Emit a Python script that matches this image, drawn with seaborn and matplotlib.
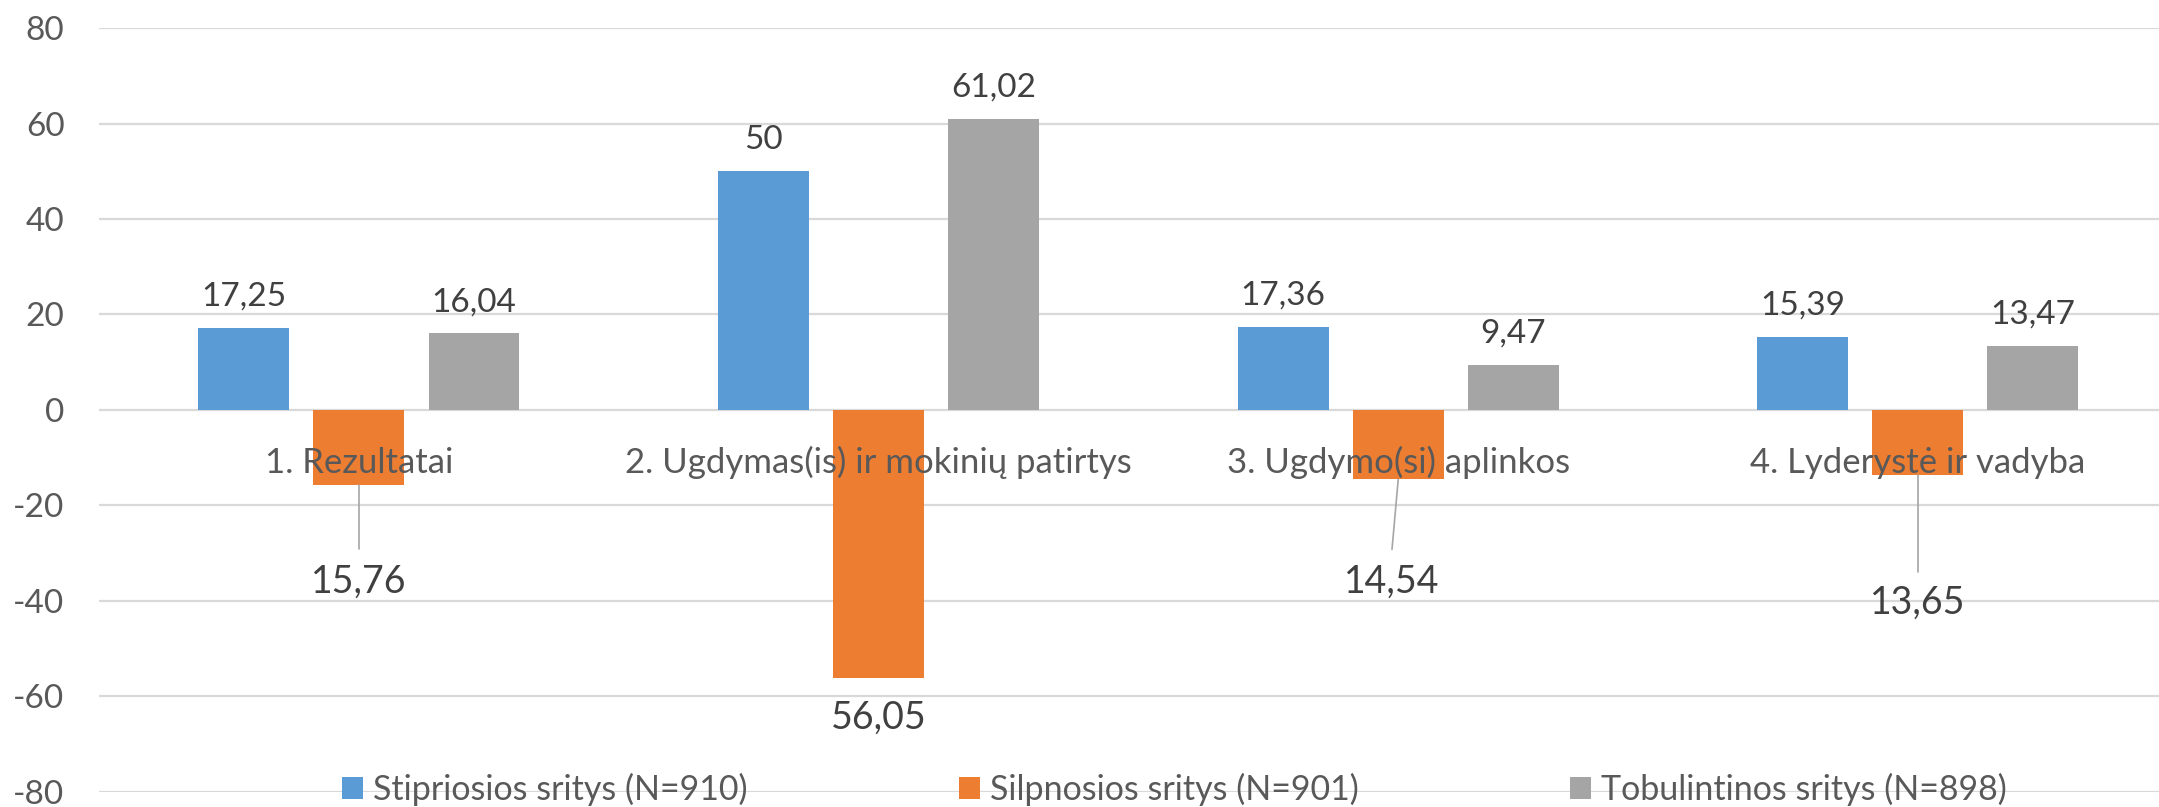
import numpy as np
import pandas as pd
import matplotlib
matplotlib.use('Agg')
import matplotlib.pyplot as plt
import seaborn as sns

# Data
categories = ['1. Rezultatai', '2. Ugdymas(is) ir mokinių patirtys',
              '3. Ugdymo(si) aplinkos', '4. Lyderystė ir vadyba']
series = ['Stipriosios sritys (N=910)', 'Silpnosios sritys (N=901)',
          'Tobulintinos sritys (N=898)']
strong = [17.25, 50, 17.36, 15.39]
weak = [15.76, 56.05, 14.54, 13.65]      # drawn below zero
improve = [16.04, 61.02, 9.47, 13.47]

# Manual placement of the weak-area labels (as in the source chart)
weak_label_y = [-36.0, -64.4, -36.0, -40.4]
weak_leader_end = [-29.2, None, -29.2, -33.9]
weak_leader_dx = [0.0, 0.0, -0.012, 0.0]

colors = ['#5B9BD5', '#ED7D31', '#A5A5A5']

df = pd.DataFrame({
    'category': categories * 3,
    'series': np.repeat(series, len(categories)),
    'value': strong + [-v for v in weak] + improve,
})

sns.set_style('white')
plt.rcParams['font.family'] = ['Lato', 'DejaVu Sans']
plt.rcParams['axes.unicode_minus'] = False

fig = plt.figure(figsize=(21.59, 8.07), dpi=100)
ax = fig.add_axes([0.0459, 0.0186, 0.9541, 0.9467])

sns.barplot(data=df, x='category', y='value', hue='series', order=categories,
            hue_order=series, palette=colors, saturation=1, errorbar=None,
            width=0.664, gap=0.21, linewidth=0, ax=ax, zorder=2)

ax.set_ylim(-80, 80)
ax.set_yticks(np.arange(-80, 81, 20))
ax.set_xlim(-0.5, 3.464)
ax.yaxis.grid(True, color='#D9D9D9', linewidth=1.6, zorder=0)
ax.set_axisbelow(True)
for s in ax.spines.values():
    s.set_visible(False)
ax.tick_params(axis='y', length=0, pad=25, labelsize=24, labelcolor='#595959')
ax.set_xticks([])
ax.set_xlabel('')
ax.set_ylabel('')

def fmt(v):
    return f"{abs(v):g}".replace('.', ',')

# labels above the positive bars
for cont in (ax.containers[0], ax.containers[2]):
    for bar in cont:
        h = bar.get_height()
        xc = bar.get_x() + bar.get_width() / 2
        ax.annotate(fmt(h), xy=(xc, h), xytext=(0, 16), textcoords='offset points',
                    ha='center', va='baseline', fontsize=24, color='#404040')

# labels for the negative (weak) bars, with leader lines
for i, bar in enumerate(ax.containers[1]):
    h = bar.get_height()
    xc = bar.get_x() + bar.get_width() / 2
    if weak_leader_end[i] is not None:
        ax.plot([xc, xc + weak_leader_dx[i]], [h, weak_leader_end[i]],
                color='#A6A6A6', linewidth=1.2, zorder=3)
    ax.text(xc + weak_leader_dx[i], weak_label_y[i], fmt(h), ha='center',
            va='center', fontsize=27, color='#404040', zorder=4)

# category names sit just under the zero line, over the bars
for i, cat in enumerate(categories):
    ax.annotate(cat, xy=(i, 0), xytext=(0, -38), textcoords='offset points',
                ha='center', va='center', fontsize=25, color='#595959', zorder=5)

# legend along the bottom
handles, labels = ax.get_legend_handles_labels()
ax.legend_.remove()
fig.legend(handles, labels, loc='center left', bbox_to_anchor=(342 / 2159, 0.0223),
           ncol=3, frameon=False, fontsize=24.5, labelcolor='#595959',
           handlelength=0.62, handleheight=0.62, handletextpad=0.3,
           columnspacing=6.2, borderpad=0, borderaxespad=0)

fig.savefig('out.png', dpi=100)
